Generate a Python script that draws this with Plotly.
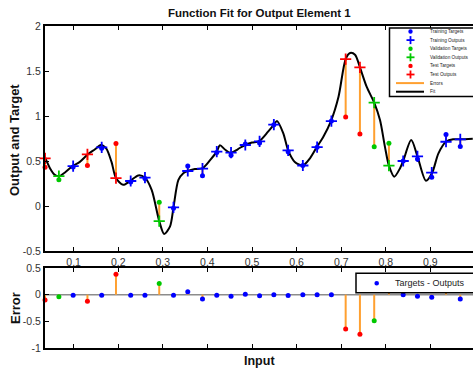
import plotly.graph_objects as go

# ---- samples (input, target, network output, data subset) ----
inputs = [0.036, 0.067, 0.099, 0.131, 0.163, 0.195, 0.228, 0.260, 0.292, 0.324,
          0.356, 0.389, 0.421, 0.453, 0.485, 0.517, 0.549, 0.581, 0.614, 0.646,
          0.678, 0.710, 0.742, 0.774, 0.807, 0.839, 0.871, 0.903, 0.935, 0.967]
targets = [0.43, 0.293, 0.434, 0.449, 0.642, 0.695, 0.268, 0.305, 0.043, -0.025,
           0.444, 0.335, 0.594, 0.563, 0.688, 0.699, 0.904, 0.604, 0.45, 0.654,
           0.944, 0.988, 0.801, 0.658, 0.698, 0.50, 0.522, 0.32, 0.794, 0.661]
outputs = [0.53, 0.333, 0.444, 0.574, 0.652, 0.31, 0.278, 0.315, -0.167, -0.015,
           0.389, 0.415, 0.604, 0.593, 0.678, 0.719, 0.904, 0.619, 0.45, 0.654,
           0.944, 1.633, 1.541, 1.148, 0.448, 0.50, 0.552, 0.37, 0.714, 0.741]
subset = ["test", "val", "train", "test", "train", "test", "train", "train", "val", "train",
          "train", "train", "train", "train", "train", "train", "train", "train", "train", "train",
          "train", "test", "test", "val", "val", "train", "train", "train", "train", "train"]

# ---- network response evaluated along the input range ----
fit_x = [0.036, 0.047, 0.057, 0.067, 0.080, 0.098, 0.114, 0.132, 0.148, 0.161,
         0.173, 0.185, 0.195, 0.211, 0.227, 0.245, 0.260, 0.275, 0.292, 0.303,
         0.316, 0.324, 0.335, 0.346, 0.356, 0.372, 0.389, 0.406, 0.421, 0.428,
         0.440, 0.452, 0.468, 0.484, 0.500, 0.516, 0.536, 0.549, 0.556, 0.570,
         0.581, 0.596, 0.614, 0.630, 0.645, 0.660, 0.677, 0.694, 0.710, 0.720,
         0.731, 0.742, 0.757, 0.774, 0.787, 0.798, 0.807, 0.819, 0.832, 0.839,
         0.857, 0.871, 0.890, 0.904, 0.918, 0.935, 0.951, 0.967, 0.995]
fit_y = [0.54, 0.42, 0.35, 0.33, 0.37, 0.444, 0.49, 0.574, 0.63, 0.678,
         0.64, 0.49, 0.31, 0.235, 0.278, 0.34, 0.315, 0.18, -0.167, -0.31,
         -0.23, -0.015, 0.29, 0.365, 0.389, 0.41, 0.42, 0.51, 0.604, 0.675,
         0.625, 0.59, 0.63, 0.678, 0.705, 0.72, 0.826, 0.904, 0.945, 0.81,
         0.619, 0.49, 0.45, 0.53, 0.652, 0.77, 0.944, 1.215, 1.633, 1.70,
         1.68, 1.541, 1.326, 1.148, 0.955, 0.66, 0.448, 0.326, 0.42, 0.50,
         0.733, 0.552, 0.281, 0.37, 0.585, 0.714, 0.741, 0.741, 0.748]

x_ticks = [0.1, 0.2, 0.3, 0.4, 0.5, 0.6, 0.7, 0.8, 0.9]
x_ticktext = ["0.1", "0.2", "0.3", "0.4", "0.5", "0.6", "0.7", "0.8", "0.9"]
y_ticks = [-0.5, 0, 0.5, 1, 1.5, 2]
y_ticktext = ["-0.5", "0", "0.5", "1", "1.5", "2"]
e_ticks = [-1, -0.5, 0, 0.5]
e_ticktext = ["-1", "-0.5", "0", "0.5"]

COLORS = {"train": "#0000FF", "val": "#00C800", "test": "#FF0000"}
ORANGE = "#FFA030"
FONT = "Liberation Sans, Arial, sans-serif"

W, H = 473, 374
L, R, T, B = 45, 473, 26, 348   # plot area edges in pixels


def px(x):
    return (x - L) / (R - L)


def py(y):
    return (B - y) / (B - T)


errors = [t - o for t, o in zip(targets, outputs)]

fig = go.Figure()

# error bars between target and output
ex, ey = [], []
for x, t, o in zip(inputs, targets, outputs):
    ex += [x, x, None]
    ey += [t, o, None]
fig.add_trace(go.Scatter(x=ex, y=ey, mode="lines", line=dict(color=ORANGE, width=2),
                         hoverinfo="skip", xaxis="x", yaxis="y"))

# fitted curve
fig.add_trace(go.Scatter(x=fit_x, y=fit_y, mode="lines",
                         line=dict(color="black", width=2, shape="spline", smoothing=0.8),
                         xaxis="x", yaxis="y"))

for name in ["train", "val", "test"]:
    idx = [i for i, s in enumerate(subset) if s == name]
    xs = [inputs[i] for i in idx]
    fig.add_trace(go.Scatter(x=xs, y=[targets[i] for i in idx], mode="markers",
                             marker=dict(color=COLORS[name], size=5), cliponaxis=False,
                             xaxis="x", yaxis="y"))
    fig.add_trace(go.Scatter(x=xs, y=[outputs[i] for i in idx], mode="markers",
                             marker=dict(symbol="cross-thin", size=8,
                                         line=dict(color=COLORS[name], width=1.8)),
                             cliponaxis=False, xaxis="x", yaxis="y"))

# error panel: stems from zero
sx, sy = [], []
for x, e in zip(inputs, errors):
    sx += [x, x, None]
    sy += [0, e, None]
fig.add_trace(go.Scatter(x=sx, y=sy, mode="lines", line=dict(color=ORANGE, width=2),
                         xaxis="x2", yaxis="y2"))
for name in ["train", "val", "test"]:
    idx = [i for i, s in enumerate(subset) if s == name]
    fig.add_trace(go.Scatter(x=[inputs[i] for i in idx], y=[errors[i] for i in idx],
                             mode="markers", marker=dict(color=COLORS[name], size=5),
                             cliponaxis=False, xaxis="x2", yaxis="y2"))

x_range = [(L - 29) / 446, (R - 29) / 446]
axis_common = dict(showline=True, linecolor="black", linewidth=2, ticks="inside",
                   ticklen=4, tickwidth=1, tickcolor="black", showgrid=False,
                   zeroline=False, tickfont=dict(family=FONT, size=10.5, color="#333333"))

shapes = [
    # zero reference in the error panel
    dict(type="line", xref="x2 domain", yref="y2", x0=0, x1=1, y0=0, y1=0,
         line=dict(color="#8c8c8c", width=1.5), layer="below"),
]
annotations = []

# legend of the fit panel
shapes.append(dict(type="rect", xref="paper", yref="paper", x0=px(389.5), x1=px(480),
                   y0=py(96.5), y1=py(28), fillcolor="white",
                   line=dict(color="black", width=1.5), layer="above"))
legend_rows = [("Training Targets", "dot", COLORS["train"]),
               ("Training Outputs", "plus", COLORS["train"]),
               ("Validation Targets", "dot", COLORS["val"]),
               ("Validation Outputs", "plus", COLORS["val"]),
               ("Test Targets", "dot", COLORS["test"]),
               ("Test Outputs", "plus", COLORS["test"]),
               ("Errors", "line", ORANGE),
               ("Fit", "line", "black")]
for k, (label, kind, col) in enumerate(legend_rows):
    yc = 31.5 + k * 8.6
    xc = 410.5
    if kind == "dot":
        shapes.append(dict(type="circle", xref="paper", yref="paper",
                           x0=px(xc - 2.2), x1=px(xc + 2.2), y0=py(yc + 2.2), y1=py(yc - 2.2),
                           fillcolor=col, line=dict(width=0), layer="above"))
    elif kind == "plus":
        shapes.append(dict(type="line", xref="paper", yref="paper",
                           x0=px(xc - 4), x1=px(xc + 4), y0=py(yc), y1=py(yc),
                           line=dict(color=col, width=1.8), layer="above"))
        shapes.append(dict(type="line", xref="paper", yref="paper",
                           x0=px(xc), x1=px(xc), y0=py(yc - 4), y1=py(yc + 4),
                           line=dict(color=col, width=1.8), layer="above"))
    else:
        shapes.append(dict(type="line", xref="paper", yref="paper",
                           x0=px(396), x1=px(424), y0=py(yc), y1=py(yc),
                           line=dict(color=col, width=2), layer="above"))
    annotations.append(dict(text=label, xref="paper", yref="paper", x=px(427.5), y=py(yc),
                            xanchor="left", yanchor="middle", showarrow=False,
                            font=dict(family=FONT, size=4.7, color="#222222")))

# legend of the error panel
shapes.append(dict(type="rect", xref="paper", yref="paper", x0=px(356), x1=px(480),
                   y0=py(292.7), y1=py(273.3), fillcolor="white",
                   line=dict(color="black", width=1.5), layer="above"))
shapes.append(dict(type="circle", xref="paper", yref="paper",
                   x0=px(376.7 - 2.3), x1=px(376.7 + 2.3), y0=py(283.3 + 2.3), y1=py(283.3 - 2.3),
                   fillcolor=COLORS["train"], line=dict(width=0), layer="above"))
annotations.append(dict(text="Targets - Outputs", xref="paper", yref="paper", x=px(392.5),
                        y=py(283.3), xanchor="left", yanchor="middle", showarrow=False,
                        font=dict(family=FONT, size=9, color="#222222")))

# titles
annotations += [
    dict(text="<b>Function Fit for Output Element 1</b>", xref="paper", yref="paper",
         x=px(259), y=py(13), xanchor="center", yanchor="middle", showarrow=False,
         font=dict(family=FONT, size=11.5, color="#111111")),
    dict(text="<b>Output and Target</b>", xref="paper", yref="paper", x=px(14), y=py(140),
         xanchor="center", yanchor="middle", textangle=-90, showarrow=False,
         font=dict(family=FONT, size=13, color="#111111")),
    dict(text="<b>Error</b>", xref="paper", yref="paper", x=px(15), y=py(308),
         xanchor="center", yanchor="middle", textangle=-90, showarrow=False,
         font=dict(family=FONT, size=13, color="#111111")),
    dict(text="<b>Input</b>", xref="paper", yref="paper", x=px(259), y=py(361),
         xanchor="center", yanchor="middle", showarrow=False,
         font=dict(family=FONT, size=12.5, color="#111111")),
]

fig.update_layout(
    width=W, height=H,
    margin=dict(l=L, r=W - R, t=T, b=H - B, pad=0),
    paper_bgcolor="white", plot_bgcolor="white",
    showlegend=False,
    xaxis=dict(domain=[0, 1], range=x_range, anchor="y", tickvals=x_ticks,
               ticktext=x_ticktext, mirror="ticks", **axis_common),
    yaxis=dict(domain=[py(251), 1], range=[-0.5, 2], anchor="x", tickvals=y_ticks,
               ticktext=y_ticktext, **axis_common),
    xaxis2=dict(domain=[0, 1], range=x_range, anchor="y2", tickvals=x_ticks,
                showticklabels=False, mirror="ticks", **axis_common),
    yaxis2=dict(domain=[0, py(268)], range=[-1, 0.5], anchor="x2", tickvals=e_ticks,
                ticktext=e_ticktext, **axis_common),
    shapes=shapes,
    annotations=annotations,
)

fig.write_html("out.html")
